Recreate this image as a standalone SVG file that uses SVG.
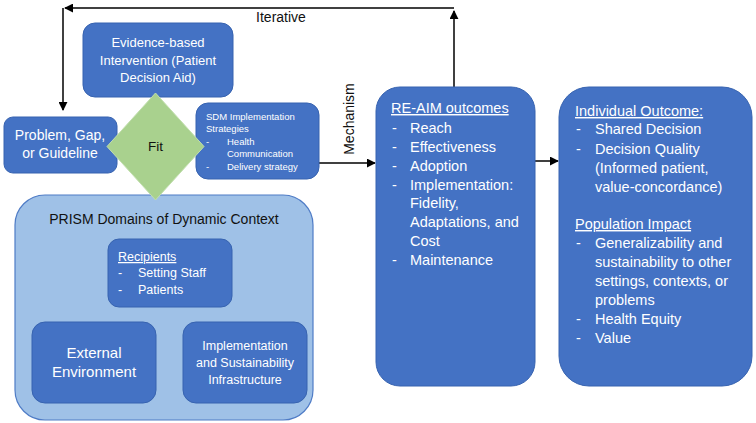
<svg xmlns="http://www.w3.org/2000/svg" width="756" height="423" viewBox="0 0 756 423">
<defs>
<marker id="ah" viewBox="0 0 10 10" refX="9" refY="5" markerWidth="9" markerHeight="9" markerUnits="userSpaceOnUse" orient="auto">
<path d="M0,0 L10,5 L0,10 z" fill="#000"/>
</marker>
<style>
.box{fill:#4472c4;stroke:#3763b0;stroke-width:1}
.prism{fill:#9fc1e7;stroke:#4f7cc6;stroke-width:1.2}
.fit{fill:#a9d18e;stroke:#c2dfae;stroke-width:1}
.t{font-family:"Liberation Sans",Arial,sans-serif;fill:#fff}
.d{font-family:"Liberation Sans",Arial,sans-serif;fill:#111}
.c{text-anchor:middle}
.conn{fill:none;stroke:#000;stroke-width:1.5}
</style>
</defs>
<rect width="756" height="423" fill="#fff"/>

<g id="connectors">
<path class="conn" d="M454,88 V11" marker-end="url(#ah)"/>
<path class="conn" d="M454,8 H65" marker-end="url(#ah)"/>
<path class="conn" d="M63,8 V110" marker-end="url(#ah)"/>
<path class="conn" d="M319,163 H375" marker-end="url(#ah)"/>
<path class="conn" d="M535,161 H558" marker-end="url(#ah)"/>
<text class="d c" x="281" y="22" font-size="14">Iterative</text>
<text class="d c" transform="translate(354,119) rotate(-90)" font-size="14">Mechanism</text>
</g>

<g id="prism">
<rect class="prism" x="15" y="195" width="298" height="225" rx="30"/>
<text class="d c" x="164" y="224" font-size="14">PRISM Domains of Dynamic Context</text>
</g>

<g id="recipients">
<rect class="box" x="108" y="239" width="124" height="68" rx="11"/>
<text class="t" font-size="12.5"><tspan x="118" y="261" text-decoration="underline">Recipients</tspan><tspan x="118" y="277">-</tspan><tspan x="138" y="277">Setting Staff</tspan><tspan x="118" y="294">-</tspan><tspan x="138" y="294">Patients</tspan></text>
</g>

<g id="external">
<rect class="box" x="32" y="322" width="124" height="81" rx="13"/>
<text class="t c" font-size="15"><tspan x="94" y="358">External</tspan><tspan x="94" y="377">Environment</tspan></text>
</g>

<g id="infrastructure">
<rect class="box" x="183" y="322" width="124" height="81" rx="13"/>
<text class="t c" font-size="12.5"><tspan x="245" y="350">Implementation</tspan><tspan x="245" y="367">and Sustainability</tspan><tspan x="245" y="384">Infrastructure</tspan></text>
</g>

<g id="evidence">
<rect class="box" x="83" y="23" width="150" height="74" rx="12"/>
<text class="t c" font-size="13"><tspan x="158" y="47">Evidence-based</tspan><tspan x="158" y="65">Intervention (Patient</tspan><tspan x="158" y="82">Decision Aid)</tspan></text>
</g>

<g id="problem">
<rect class="box" x="4" y="117" width="113" height="56" rx="9"/>
<text class="t c" font-size="14"><tspan x="60" y="140">Problem, Gap,</tspan><tspan x="60" y="158">or Guideline</tspan></text>
</g>

<g id="sdm">
<rect class="box" x="196" y="103" width="123" height="76" rx="12"/>
<text class="t" font-size="9.5"><tspan x="206" y="120">SDM Implementation</tspan><tspan x="206" y="132">Strategies</tspan><tspan x="206" y="145">-</tspan><tspan x="227" y="145">Health</tspan><tspan x="227" y="157">Communication</tspan><tspan x="206" y="170">-</tspan><tspan x="227" y="170">Delivery strategy</tspan></text>
</g>

<g id="fit">
<polygon class="fit" points="155.5,93 204,146.5 155.5,200 107,146.5"/>
<text class="d c" x="155.5" y="151" font-size="13.5">Fit</text>
</g>

<g id="reaim">
<rect class="box" x="376" y="87" width="159" height="299" rx="24"/>
<text class="t" font-size="14.5"><tspan x="391" y="113" text-decoration="underline">RE-AIM outcomes</tspan><tspan x="392" y="133">-</tspan><tspan x="410" y="133">Reach</tspan><tspan x="392" y="152">-</tspan><tspan x="410" y="152">Effectiveness</tspan><tspan x="392" y="171">-</tspan><tspan x="410" y="171">Adoption</tspan><tspan x="392" y="190">-</tspan><tspan x="410" y="190">Implementation:</tspan><tspan x="410" y="208">Fidelity,</tspan><tspan x="410" y="227">Adaptations, and</tspan><tspan x="410" y="246">Cost</tspan><tspan x="392" y="265">-</tspan><tspan x="410" y="265">Maintenance</tspan></text>
</g>

<g id="individual">
<rect class="box" x="559" y="87" width="193" height="299" rx="30"/>
<text class="t" font-size="14.5"><tspan x="575" y="116" text-decoration="underline">Individual Outcome:</tspan><tspan x="576" y="134">-</tspan><tspan x="595" y="134">Shared Decision</tspan><tspan x="576" y="154">-</tspan><tspan x="595" y="154">Decision Quality</tspan><tspan x="595" y="173">(Informed patient,</tspan><tspan x="595" y="192">value-concordance)</tspan><tspan x="575" y="229" text-decoration="underline">Population Impact</tspan><tspan x="576" y="248">-</tspan><tspan x="595" y="248">Generalizability and</tspan><tspan x="595" y="267">sustainability to other</tspan><tspan x="595" y="286">settings, contexts, or</tspan><tspan x="595" y="305">problems</tspan><tspan x="576" y="324">-</tspan><tspan x="595" y="324">Health Equity</tspan><tspan x="576" y="343">-</tspan><tspan x="595" y="343">Value</tspan></text>
</g>
</svg>
